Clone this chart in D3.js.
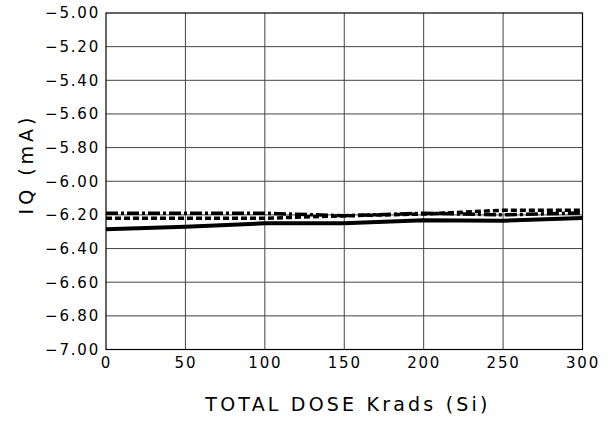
<!DOCTYPE html>
<html><head><meta charset="utf-8">
<script src="https://cdn.jsdelivr.net/npm/d3@7/dist/d3.min.js"></script>
<style>body{margin:0;background:#fff}svg{display:block}text{font-family:"DejaVu Sans",sans-serif;fill:#000}</style>
</head><body><svg id="c" width="616" height="424"></svg>
<script>
const doses = [0, 50, 100, 150, 200, 250, 300];
const seriesSolid = [-6.285, -6.27, -6.25, -6.25, -6.232, -6.235, -6.218];
const seriesDash = [-6.22, -6.22, -6.22, -6.205, -6.195, -6.172, -6.172];
const seriesDashDot = [-6.19, -6.19, -6.19, -6.205, -6.19, -6.2, -6.188];
const xTicks = [0, 50, 100, 150, 200, 250, 300];
const yTicks = [-5.0, -5.2, -5.4, -5.6, -5.8, -6.0, -6.2, -6.4, -6.6, -6.8, -7.0];

const svg = d3.select("#c");
const L = 106, R = 582.5, T = 13, B = 349.5;
const x = d3.scaleLinear().domain([0, 300]).range([L, R]);
const y = d3.scaleLinear().domain([-7, -5]).range([B, T]);

// grid
svg.append("g").selectAll("line.v").data(xTicks.slice(1, -1)).join("line")
  .attr("x1", d => x(d)).attr("x2", d => x(d)).attr("y1", T).attr("y2", B)
  .attr("stroke", "#444").attr("stroke-width", 1);
svg.append("g").selectAll("line.h").data(yTicks.slice(1, -1)).join("line")
  .attr("y1", d => y(d)).attr("y2", d => y(d)).attr("x1", L).attr("x2", R)
  .attr("stroke", "#444").attr("stroke-width", 1);
svg.append("rect").attr("x", L).attr("y", T).attr("width", R - L).attr("height", B - T)
  .attr("fill", "none").attr("stroke", "#000").attr("stroke-width", 1.2);

// axes labels via d3 axes (no lines)
const xAxis = svg.append("g").attr("transform", `translate(0,${B})`)
  .call(d3.axisBottom(x).tickValues(xTicks).tickSize(0).tickPadding(8).tickFormat(d3.format("d")));
xAxis.select(".domain").remove();
xAxis.selectAll("text").attr("font-size", 15).style("letter-spacing", "1.8px").attr("font-family", "DejaVu Sans");

const yAxis = svg.append("g").attr("transform", `translate(${L},0)`)
  .call(d3.axisLeft(y).tickValues(yTicks).tickSize(0).tickPadding(6)
    .tickFormat(d => d3.format(".2f")(d).replace("-", "\u2212")));
yAxis.select(".domain").remove();
yAxis.selectAll("text").attr("font-size", 15).style("letter-spacing", "1.8px").attr("font-family", "DejaVu Sans");

// lines
const line = d3.line().x((d, i) => x(doses[i])).y(d => y(d));
svg.append("path").datum(seriesDashDot).attr("d", line).attr("fill", "none")
  .attr("stroke", "#000").attr("stroke-width", 3.5).attr("stroke-dasharray", "12,3,3,3");
svg.append("path").datum(seriesDash).attr("d", line).attr("fill", "none")
  .attr("stroke", "#000").attr("stroke-width", 3.5).attr("stroke-dasharray", "6,3");
svg.append("path").datum(seriesSolid).attr("d", line).attr("fill", "none")
  .attr("stroke", "#000").attr("stroke-width", 4);

// titles
svg.append("text").attr("x", 348).attr("y", 411).attr("text-anchor", "middle")
  .attr("font-size", 19).style("letter-spacing", "3.2px").text("TOTAL DOSE Krads (Si)");
svg.append("text").attr("transform", "translate(33,164) rotate(-90)").attr("text-anchor", "middle")
  .attr("font-size", 19).style("letter-spacing", "4px").text("IQ (mA)");
</script></body></html>
